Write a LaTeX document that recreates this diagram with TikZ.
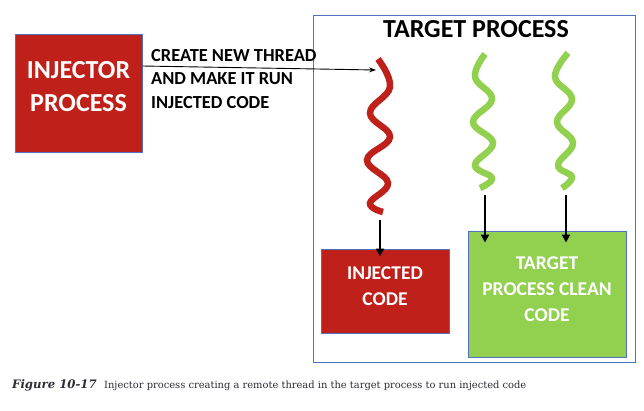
\documentclass[tikz,border=0pt]{standalone}
\usepackage{fontspec}
\setsansfont{Carlito}
\newfontfamily\capfont{DejaVu Serif}
\usetikzlibrary{arrows.meta}
\definecolor{injred}{RGB}{192,32,26}
\definecolor{cleangreen}{RGB}{146,208,80}
\definecolor{boxblue}{RGB}{79,114,190}
\definecolor{capgray}{RGB}{45,45,55}
\begin{document}
\begin{tikzpicture}[x=1pt,y=-1pt,
    procbox/.style={draw=boxblue,line width=1pt,minimum width=#1},
    boxtext/.style={align=center,text=white,font=\sffamily\bfseries\fontsize{19.5}{26}\selectfont},
    thread/.style={line width=6.5pt},
    callarrow/.style={-{Stealth[length=7pt,width=5pt]},line width=0.9pt},
    codearrow/.style={-{Triangle[length=8pt,width=8pt]},line width=2pt}]
  \useasboundingbox[fill=white] (0,0) rectangle (644,410);
  % target process frame
  \node[draw=boxblue,line width=1pt,minimum width=322pt,minimum height=347pt] (target) at (474,188.5) {};
  \node[font=\sffamily\bfseries\fontsize{26}{30}\selectfont] (title) at (476,29) {TARGET PROCESS};
  % injector
  \node[procbox=127pt,minimum height=118pt,fill=injred] (injector) at (78.5,93) {};
  \node[boxtext,font=\sffamily\bfseries\fontsize{26}{33}\selectfont] (injtext) at ([yshift=6pt]injector) {INJECTOR\\PROCESS};
  \node[anchor=west,align=left,inner sep=0pt,
    font=\sffamily\bfseries\fontsize{18.4}{23.5}\selectfont] (calltext) at (151,79)
    {CREATE NEW THREAD\\AND MAKE IT RUN\\INJECTED CODE};
  % code boxes
  \node[procbox=128pt,minimum height=84pt,fill=injred] (injcode) at (385,291) {};
  \node[boxtext] (injcodetext) at ([yshift=5pt]injcode) {INJECTED\\CODE};
  \node[procbox=158pt,minimum height=126pt,fill=cleangreen] (cleancode) at (547,294) {};
  \node[boxtext] (cleantext) at ([yshift=5pt]cleancode) {TARGET\\PROCESS CLEAN\\CODE};
  % threads
  \draw[thread,injred] plot[smooth,tension=0.7] coordinates
    {(378,59) (390,87) (370,113) (390,137) (367,160) (388,183) (370,203) (383,212)};
  \draw[thread,cleangreen] plot[smooth,tension=0.7] coordinates
    {(485,54) (475,77) (492,99) (473,122) (493,143) (475,165) (492,178) (480,188)};
  \draw[thread,cleangreen] plot[smooth,tension=0.7] coordinates
    {(568,53) (555,77) (572,99) (557,122) (573,143) (558,165) (572,177) (562,188)};
  \coordinate (redtop) at (376,70);
  \coordinate (redend) at (380,220);
  \coordinate (greenend1) at (485,195);
  \coordinate (greenend2) at (566,195);
  % connectors
  \draw[callarrow] ([yshift=27pt]injector.east) -- (redtop);
  \draw[codearrow] (redend) -- ([yshift=-8pt]injcode.north -| redend);
  \draw[codearrow] (greenend1) -- ([yshift=-12pt]cleancode.north -| greenend1);
  \draw[codearrow] (greenend2) -- ([yshift=-12pt]cleancode.north -| greenend2);
  % caption
  \node[anchor=base west,inner sep=0pt,text=capgray] (capnum) at (12,388)
    {\capfont\bfseries\itshape\fontsize{11.7}{14}\selectfont Figure 10-17};
  \node[anchor=base west,inner sep=0pt,text=capgray] (captext) at (104,388)
    {\capfont\fontsize{9.9}{12}\selectfont Injector process creating a remote thread in the target process to run injected code};
\end{tikzpicture}
\end{document}
